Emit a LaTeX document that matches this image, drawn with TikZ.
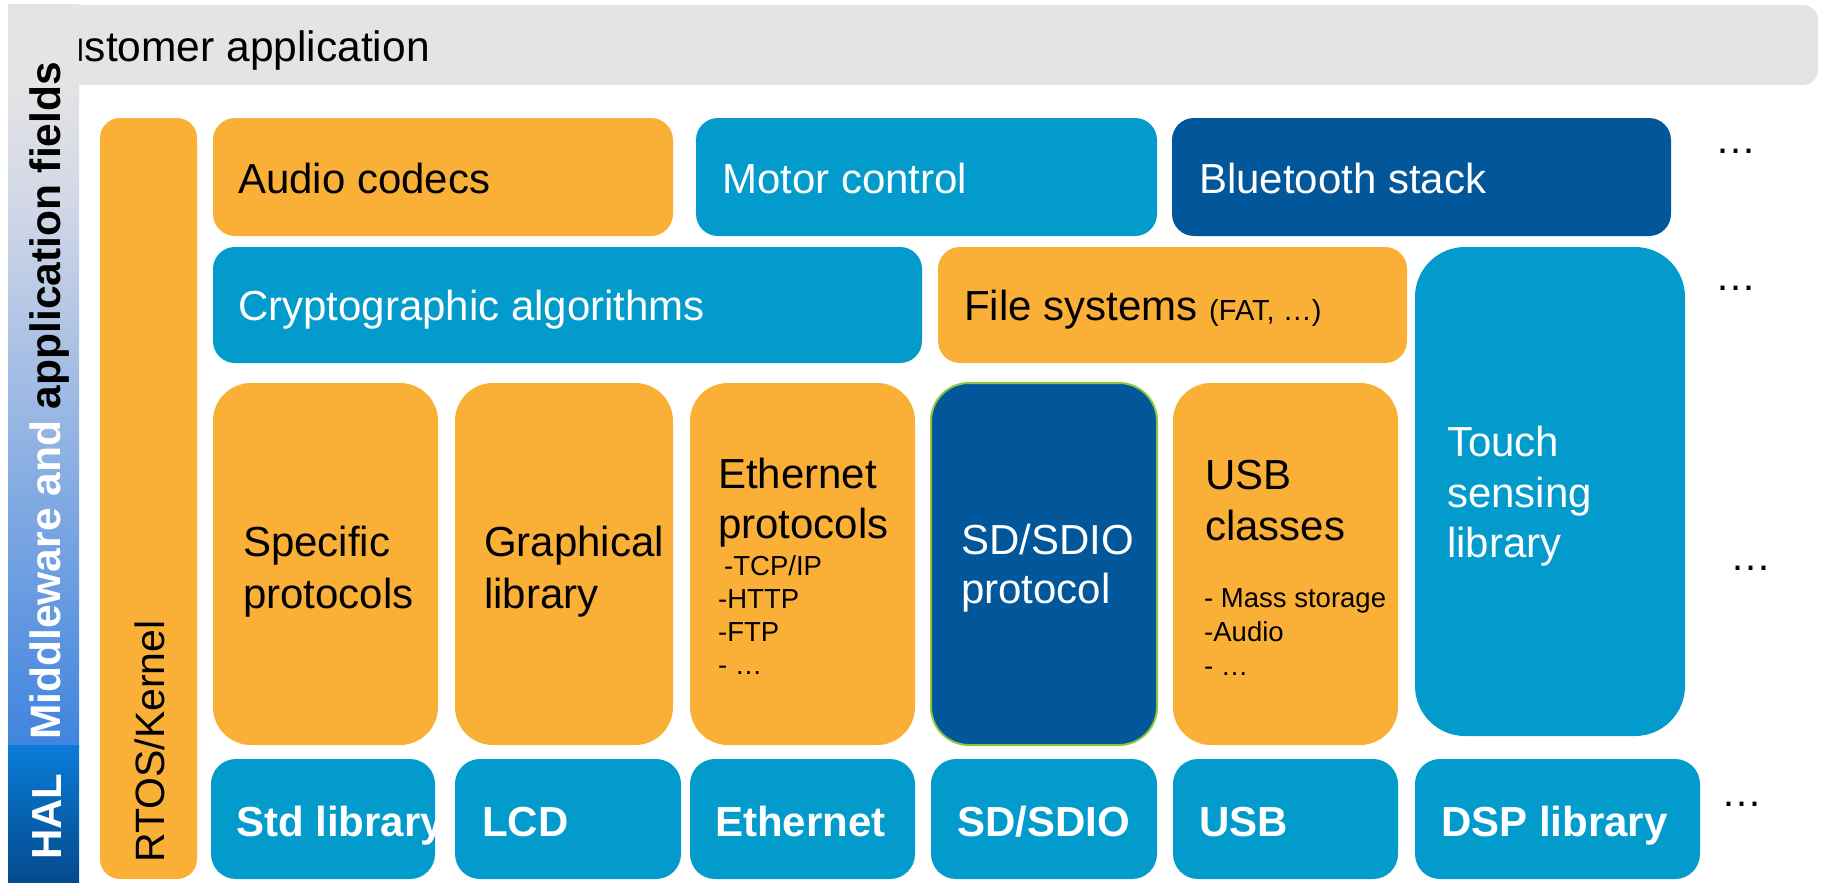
\documentclass[tikz,border=0pt]{standalone}
\usepackage{fontspec}
\setmainfont{Liberation Sans}
\usetikzlibrary{fit}
\definecolor{stor}{HTML}{FAAF36}
\definecolor{stlb}{HTML}{039BCC}
\definecolor{stdb}{HTML}{02569A}
\definecolor{stgray}{HTML}{E4E4E4}
\definecolor{mwtop}{HTML}{E4E4E4}
\definecolor{mwmid}{HTML}{D3D8E7}
\definecolor{mwbot}{HTML}{3F84DE}
\definecolor{haltop}{HTML}{0A7CD9}
\definecolor{halbot}{HTML}{034A8B}
\definecolor{sdgreen}{HTML}{8CC63F}
\pgfdeclareverticalshading{mwshade}{100bp}{color(0bp)=(mwbot); color(25bp)=(mwbot); color(62bp)=(mwmid); color(70bp)=(mwtop); color(100bp)=(mwtop)}
\begin{document}
\begin{tikzpicture}[x=1pt,y=-1pt,
  blk/.style={inner sep=0pt, outer sep=0pt, draw=none},
  ob/.style={blk, fill=stor},
  lb/.style={blk, fill=stlb},
  db/.style={blk, fill=stdb},
  big/.style={font=\fontsize{42}{50}\selectfont, inner sep=0pt},
  bigw/.style={big, text=white},
  small/.style={font=\fontsize{27.5}{33}\selectfont, inner sep=0pt},
  halbl/.style={font=\bfseries\fontsize{42}{50}\selectfont, inner sep=0pt, text=white},
  dots/.style={font=\fontsize{41}{49}\selectfont, inner sep=0pt, anchor=base}]
\useasboundingbox (0,0) rectangle (1825,883);

% customer application bar
\node (cust) [blk, fill=stgray, rounded corners=15, fit={(9,5) (1818,85)}] {};
\node (custt) [font=\fontsize{42.5}{50}\selectfont, inner sep=0pt, anchor=base east] at (430,62) {Customer application};

% left vertical bars
\node (mw) [blk, shade, shading=mwshade, fit={(8,5) (79,747)}] {};
\node (hal) [blk, shade, top color=haltop, bottom color=halbot, fit={(8,745) (79,883)}] {};
\node (mwt) [font=\bfseries\fontsize{42.5}{50}\selectfont, inner sep=0pt, rotate=90, anchor=base west] at (60,740) {\textcolor{white}{Middleware and} application fields};
\node (halt) [halbl, rotate=90, anchor=base west] at (61,860) {HAL};

% RTOS
\node (rtos) [ob, rounded corners=20, fit={(100,118) (197,879)}] {};
\node (rtost) [font=\fontsize{41}{49}\selectfont, inner sep=0pt, rotate=90, anchor=base west] at (164,863) {RTOS/Kernel};

% row 1
\node (audio) [ob, rounded corners=22, fit={(213,118) (673,236)}] {};
\node (audiot) [big, anchor=base west] at (238,193) {Audio codecs};
\node (motor) [lb, rounded corners=22, fit={(696,118) (1157,236)}] {};
\node (motort) [bigw, anchor=base west] at (722,193) {Motor control};
\node (bt) [db, rounded corners=22, fit={(1172,118) (1671,236)}] {};
\node (btt) [bigw, anchor=base west] at (1199,193) {Bluetooth stack};
\node (d1) [dots] at (1736,153) {…};

% row 2
\node (crypto) [lb, rounded corners=22, fit={(213,247) (922,363)}] {};
\node (cryptot) [bigw, anchor=base west] at (238,320) {Cryptographic algorithms};
\node (fs) [ob, rounded corners=22, fit={(938,247) (1407,363)}] {};
\node (fst) [big, anchor=base west] at (964,320) {File systems \fontsize{29}{34}\selectfont(FAT, …)};
\node (touch) [lb, rounded corners=50, fit={(1415,247) (1685,736)}] {};
\node (toucht1) [bigw, anchor=base west] at (1447,456) {Touch};
\node (toucht2) [bigw, anchor=base west] at (1447,507) {sensing};
\node (toucht3) [bigw, anchor=base west] at (1447,557) {library};
\node (d2) [dots] at (1736,290) {…};

% row 3
\node (spec) [ob, rounded corners=38, fit={(213,383) (438,745)}] {};
\node (spect1) [big, anchor=base west] at (243,556) {Specific};
\node (spect2) [big, anchor=base west] at (243,608) {protocols};
\node (graph) [ob, rounded corners=38, fit={(455,383) (673,745)}] {};
\node (grapht1) [big, anchor=base west] at (484,556) {Graphical};
\node (grapht2) [big, anchor=base west] at (484,608) {library};
\node (ethp) [ob, rounded corners=38, fit={(690,383) (915,745)}] {};
\node (etht1) [big, anchor=base west] at (718,488) {Ethernet};
\node (etht2) [big, anchor=base west] at (718,538) {protocols};
\node (ethl1) [small, anchor=base west] at (724,575) {-TCP/IP};
\node (ethl2) [small, anchor=base west] at (718,608) {-HTTP};
\node (ethl3) [small, anchor=base west] at (718,641) {-FTP};
\node (ethl4) [small, anchor=base west] at (718,674) {- …};
\node (sdp) [db, draw=sdgreen, line width=2pt, rounded corners=38, fit={(931,383) (1157,745)}] {};
\node (sdpt1) [bigw, anchor=base west] at (961,554) {SD/SDIO};
\node (sdpt2) [bigw, anchor=base west] at (961,603) {protocol};
\node (usbc) [ob, rounded corners=38, fit={(1173,383) (1398,745)}] {};
\node (usbct1) [big, anchor=base west] at (1205,489) {USB};
\node (usbct2) [big, anchor=base west] at (1205,540) {classes};
\node (usbl1) [small, anchor=base west] at (1204,607) {- Mass storage};
\node (usbl2) [small, anchor=base west] at (1204,641) {-Audio};
\node (usbl3) [small, anchor=base west] at (1204,675) {- …};
\node (d3) [dots] at (1751,570) {…};

% row 4 (HAL)
\node (std) [lb, rounded corners=25, fit={(211,759) (435,879)}] {};
\node (stdt) [halbl, anchor=base west] at (236,836) {Std library};
\node (lcd) [lb, rounded corners=25, fit={(455,759) (681,879)}] {};
\node (lcdt) [halbl, anchor=base west] at (482,836) {LCD};
\node (eth) [lb, rounded corners=25, fit={(690,759) (915,879)}] {};
\node (etht) [halbl, anchor=base west] at (715,836) {Ethernet};
\node (sd) [lb, rounded corners=25, fit={(931,759) (1157,879)}] {};
\node (sdt) [halbl, anchor=base west] at (957,836) {SD/SDIO};
\node (usb) [lb, rounded corners=25, fit={(1173,759) (1398,879)}] {};
\node (usbt) [halbl, anchor=base west] at (1199,836) {USB};
\node (dsp) [lb, rounded corners=25, fit={(1415,759) (1700,879)}] {};
\node (dspt) [halbl, anchor=base west] at (1441,836) {DSP library};
\node (d4) [dots] at (1742,806) {…};
\end{tikzpicture}
\end{document}
